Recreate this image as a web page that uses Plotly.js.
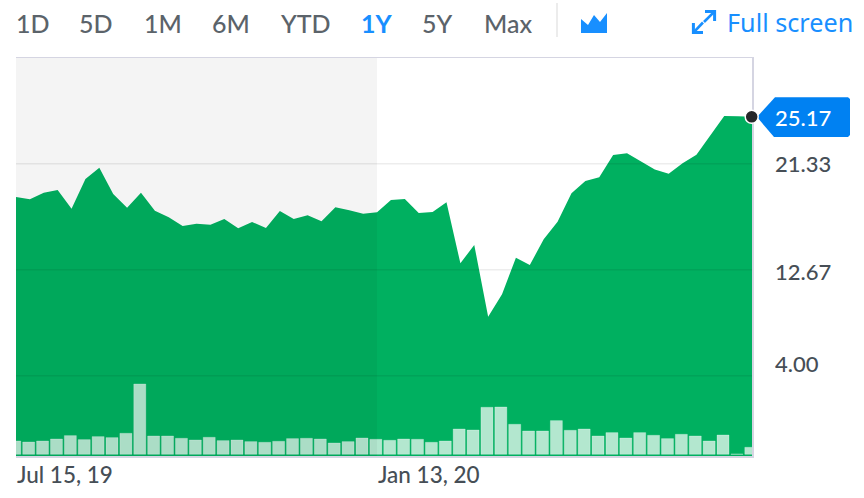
<!DOCTYPE html>
<html><head><meta charset="utf-8">
<script src="https://cdn.plot.ly/plotly-3.0.0.min.js"></script>
<style>html,body{margin:0;padding:0;background:#fff}#c{width:864px;height:498px}</style>
</head><body><div id="c"></div>
<script>
const dates = ['2019-07-15','2019-07-22','2019-07-29','2019-08-05','2019-08-12','2019-08-19','2019-08-26','2019-09-02','2019-09-09','2019-09-16','2019-09-23','2019-09-30','2019-10-07','2019-10-14','2019-10-21','2019-10-28','2019-11-04','2019-11-11','2019-11-18','2019-11-25','2019-12-02','2019-12-09','2019-12-16','2019-12-23','2019-12-30','2020-01-06','2020-01-13','2020-01-20','2020-01-27','2020-02-03','2020-02-10','2020-02-17','2020-02-24','2020-03-02','2020-03-09','2020-03-16','2020-03-23','2020-03-30','2020-04-06','2020-04-13','2020-04-20','2020-04-27','2020-05-04','2020-05-11','2020-05-18','2020-05-25','2020-06-01','2020-06-08','2020-06-15','2020-06-22','2020-06-29','2020-07-06','2020-07-13','2020-07-20'];
const price = [18.61,18.42,18.96,19.18,17.65,20.08,21.01,18.86,17.74,18.96,17.49,16.95,16.24,16.43,16.35,16.81,16.05,16.57,16.08,17.47,16.81,17.11,16.62,17.77,17.52,17.24,17.36,18.36,18.45,17.30,17.38,18.18,13.19,14.69,8.82,10.65,13.65,13.05,15.15,16.59,18.91,19.92,20.22,22.04,22.18,21.50,20.87,20.52,21.37,22.07,23.68,25.23,25.21,25.17];
const volume = [13.3,12.3,13.3,15.3,18.7,14.7,17.7,16.7,21,70.3,18.3,18.3,16,14.3,17,13.7,14.3,12.7,12,13,15.7,16,15.3,11.3,12.7,16.3,15,14,15.3,15,12,13.3,25.3,24.3,47,47.3,30,23.3,23.3,33.7,24,25.3,18.3,21.7,16.3,21.7,19,15.7,20,18.3,13.3,19.3,0.3,7];
const yTicks = [30, 21.33, 12.67, 4];
const yTickShift = [-10, 0, -2, 12];
const rangeButtons = ['1D','5D','1M','6M','YTD','1Y','5Y','Max'];
const buttonLeft = [15,78,143,211,279,360,421,483];
const activeButton = '1Y';
const xLabels = [{d:'2019-07-15',t:'Jul 15, 19'},{d:'2020-01-13',t:'Jan 13, 20'}];
const lastPrice = '25.17';

const W=864,H=498,L=16,R=752,T=58,B=456;
const px=x=>(x-L)/(R-L), py=y=>(B-y)/(B-T);
const path=pts=>pts.map((p,i)=>(i?'L':'M')+px(p[0])+','+py(p[1])).join(' ');
const yMin=-2.57,yMax=29.98;
const WEEK=604800000, pxMs=WEEK/13.87;
const FONT='Lato, sans-serif', BLUE='#188fff', GREY='#5b636a', DARK='#464e56', EDGE='#d5d5e2';
const barW=12*pxMs;

const traces=[
 {x:dates,y:dates.map(()=>yMin),type:'scatter',mode:'lines',line:{width:0},hoverinfo:'skip',showlegend:false},
 {x:dates,y:price,type:'scatter',mode:'lines',line:{width:0,color:'#00b060'},fill:'tonexty',fillcolor:'#00b060',hoverinfo:'skip',showlegend:false},
 {x:dates,y:volume,type:'bar',yaxis:'y2',width:dates.map(()=>barW),offset:dates.map(()=>-barW/2-1.2*pxMs),
  marker:{color:'rgba(255,255,255,0.7)',line:{color:'rgba(255,255,255,0.25)',width:1}},hoverinfo:'skip',showlegend:false}
];

const shapes=[
 {type:'rect',xref:'x',yref:'paper',x0:dates[0],x1:'2020-01-13',y0:0,y1:1,layer:'above',line:{width:0},fillcolor:'rgba(0,0,0,0.045)'}
];
yTicks.slice(1).forEach(v=>shapes.push({type:'line',xref:'paper',yref:'y',x0:0,x1:1,y0:v,y1:v,layer:'above',line:{color:'rgba(0,0,0,0.07)',width:1.5}}));
const paperShape=(d,fill,line)=>({type:'path',xref:'paper',yref:'paper',path:d,fillcolor:fill||'rgba(0,0,0,0)',line:line||{width:0},layer:'above'});
shapes.push(
 paperShape(path([[557,3],[557,37]]),null,{color:'#e6e6e6',width:1.5}),
 paperShape(path([[581,19],[588,25],[594,15],[600,22],[607,13],[607,33],[581,33]])+' Z',BLUE),
 paperShape(path([[705,11.4],[714.6,11.4],[714.6,21]]),null,{color:BLUE,width:3}),
 paperShape(path([[714.6,11.4],[704,22]]),null,{color:BLUE,width:2.6}),
 paperShape(path([[693.4,23],[693.4,32.6],[703,32.6]]),null,{color:BLUE,width:3}),
 paperShape(path([[693.4,32.6],[703,22.5]]),null,{color:BLUE,width:2.6}),
 paperShape(path([[757,117],[775,97.3],[848,97.3],[850,99],[850,135],[848,137],[774,137]])+' Z','#0081f2'),
 {type:'circle',layer:'above',xref:'paper',yref:'paper',xsizemode:'pixel',ysizemode:'pixel',
  xanchor:px(751.7),yanchor:(price[price.length-1]-yMin)/(yMax-yMin),x0:-6.5,x1:6.5,y0:-6.5,y1:6.5,
  fillcolor:'#26282a',line:{color:'#fff',width:1.5}}
);

const annotations=[];
const txt=(t,x,y,size,color,weight,family)=>annotations.push({text:t,xref:'paper',yref:'paper',x:px(x),y:py(y),xanchor:'left',yanchor:'middle',showarrow:false,align:'left',borderpad:0,
  font:{family:family||FONT,size:size,color:color,weight:weight||400}});
rangeButtons.forEach((b,i)=>txt(b,buttonLeft[i],23,25,b===activeButton?BLUE:GREY,b===activeButton?700:500));
txt('Full screen',726,22,25.2,BLUE,400,'"Noto Sans", sans-serif');
yTicks.forEach((v,i)=>annotations.push({text:v.toFixed(2),xref:'paper',yref:'y',x:px(774),y:v,yshift:yTickShift[i],xanchor:'left',yanchor:'middle',showarrow:false,borderpad:0,
  font:{family:FONT,size:22,color:DARK,weight:500}}));
txt(lastPrice,774,117,22,'#fff',500);
xLabels.forEach(l=>annotations.push({text:l.t,xref:'x',yref:'paper',x:l.d,y:py(474),xanchor:'left',yanchor:'middle',showarrow:false,borderpad:0,
  font:{family:FONT,size:22.5,color:DARK,weight:500}}));

Plotly.newPlot('c',traces,{
 width:W,height:H,margin:{l:L,r:W-R,t:T,b:H-B,pad:0},paper_bgcolor:'#fff',plot_bgcolor:'#fff',showlegend:false,bargap:0,
 font:{family:FONT},
 xaxis:{type:'date',range:[dates[0],dates[dates.length-1]],showgrid:false,zeroline:false,showticklabels:false,ticks:'',showline:true,mirror:true,linecolor:EDGE,linewidth:1.5},
 yaxis:{range:[yMin,yMax],side:'right',showgrid:false,zeroline:false,showticklabels:false,ticks:'',showline:true,linecolor:EDGE,linewidth:1.5},
 yaxis2:{range:[-1.7,396.3],overlaying:'y',side:'right',visible:false},
 shapes:shapes,annotations:annotations
},{displayModeBar:false,staticPlot:true});
</script></body></html>
